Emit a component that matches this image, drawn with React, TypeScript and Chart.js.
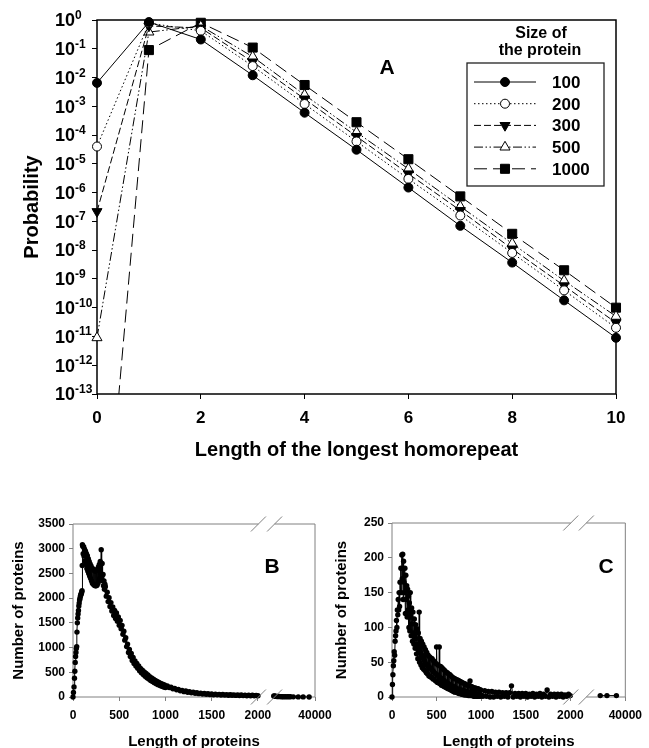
import React, { useEffect, useRef } from "react";
import { Chart, registerables } from "chart.js";

Chart.register(...registerables);

const FONT = '"Liberation Sans", Arial, Helvetica, sans-serif';
Chart.defaults.font.family = FONT;

// ---------------- Panel A data ----------------
const repeatLengths = [0, 1, 2, 3, 4, 5, 6, 7, 8, 9, 10];
const proteinSizes = ["100", "200", "300", "500", "1000"];
const prob100 = [6.5e-3, 0.85, 0.21, 0.012, 6e-4, 3.1e-5, 1.5e-6, 7e-8, 3.7e-9, 1.8e-10, 9e-12];
const prob200 = [4e-5, 0.78, 0.42, 0.025, 1.2e-3, 6e-5, 3e-6, 1.6e-7, 8e-9, 4e-10, 2e-11];
const prob300 = [2.2e-7, 0.62, 0.53, 0.035, 1.8e-3, 9e-5, 4.5e-6, 2.4e-7, 1.1e-8, 5.8e-10, 3e-11];
const prob500 = [9e-12, 0.38, 0.62, 0.053, 2.5e-3, 1.25e-4, 6.7e-6, 3.3e-7, 1.7e-8, 8.7e-10, 5e-11];
const prob1000 = [2e-22, 0.09, 0.8, 0.11, 5.5e-3, 2.8e-4, 1.45e-5, 7.4e-7, 3.7e-8, 2e-9, 1e-10];
const probSeries = [prob100, prob200, prob300, prob500, prob1000];
const probTickExponents = [0, -1, -2, -3, -4, -5, -6, -7, -8, -9, -10, -11, -12, -13];
const repeatTicks = [0, 2, 4, 6, 8, 10];

// ---------------- Panel B data ----------------
const lengthsB_rise = [0, 5, 11, 16, 20, 24, 28, 32, 36, 40, 43, 47, 51, 55, 59, 63, 67, 71, 75, 79, 83, 87, 91, 95, 98, 100, 102];
const countsB_rise = [0, 90, 204, 380, 520, 700, 820, 900, 980, 1020, 1313, 1500, 1600, 1680, 1750, 1840, 1900, 1960, 1990, 2030, 2060, 2080, 2100, 2130, 2150, 2660, 3080];
const countsB_peak = [3050, 2900, 3040, 2850, 2990, 2750, 2950, 2680, 2900, 2600, 2860, 2550, 2800, 2500, 2740, 2450, 2690, 2400, 2650, 2350, 2610, 2300, 2590, 2280, 2570, 2260, 2550, 2250, 2550, 2250, 2560, 2260, 2590, 2300, 2630, 2350, 2680, 2400, 2740, 2500, 2980, 2450, 2700, 2350, 2480, 2250, 2350, 2180, 2280]; // lengths 105..345 by 5
const countsB_decay = [2230, 2040, 2120, 1930, 2010, 1830, 1910, 1740, 1820, 1650, 1750, 1590, 1700, 1530, 1620, 1450, 1550, 1380, 1450, 1270, 1330, 1150, 1200, 1020, 1070, 900, 960, 820, 880, 740, 800, 680, 730, 625, 680, 580, 630, 530, 580, 490, 540, 455, 505, 420, 475, 390, 445, 362, 410, 335, 385, 312, 360, 290, 335, 268, 315, 250, 295, 232, 275, 215, 258, 200, 245, 190]; // lengths 350..1000 by 10
const countsB_tail = [225, 190, 200, 165, 175, 145, 155, 125, 135, 108, 120, 95, 105, 84, 95, 76, 86, 68, 78, 62, 72, 56, 66, 50, 62, 47, 57, 44, 54, 41, 51, 38, 48, 36, 46, 34, 44, 32, 42, 30, 40, 28, 38, 26, 36, 25, 34, 24, 32, 26]; // lengths 1020..2000 by 20
const lengthsB_long = [2100, 2500, 3000, 3500, 4000, 5000, 6000, 7000, 8000, 9000, 10000, 11500, 13000, 14500, 16000, 17500, 20100, 24600, 29100, 34600];
const countsB_long = [22, 18, 16, 14, 13, 11, 10, 9, 8, 7, 6, 6, 5, 5, 4, 4, 3, 2, 2, 1];
const countTicksB = [0, 500, 1000, 1500, 2000, 2500, 3000, 3500];

// ---------------- Panel C data ----------------
const countsC_rise = [0, 18, 32, 45, 52, 65, 60, 80, 88, 95, 110, 100, 125, 118, 140, 125, 150, 130, 165, 150]; // lengths 0..95 by 5
const countsC_body = [
  185, 150, 204, 170, 205, 140, 195, 165, 150, 185, 120, 175, 140, 160, 115, 155, 125, 145, 100, 135,
  95, 150, 115, 88, 128, 105, 80, 122, 92, 76, 112, 90, 70, 104, 84, 62, 98, 76, 55, 92,
  70, 122, 50, 84, 64, 46, 80, 60, 42, 76, 56, 40, 72, 52, 38, 68, 48, 35, 64, 46,
  33, 60, 44, 30, 58, 42, 29, 56, 40, 28, 55, 38, 26, 52, 36, 25, 50, 34, 23, 48,
  72, 32, 21, 46, 30, 20, 72, 28, 19, 44, 27, 17, 42, 25, 16, 40, 24, 15, 38, 22,
  14, 36, 21, 13, 35, 20, 12, 33, 18, 11, 32, 17, 10, 30, 16, 9, 28, 15, 8, 27,
  14, 7, 26, 13, 7, 25, 12, 6, 24, 11, 5, 23, 10, 5, 22, 10, 4, 21, 9, 4,
  20, 9, 3, 19, 8, 3, 18, 8, 3, 17, 7, 2, 16, 7, 2, 23, 6, 2, 15, 6,
  2, 14, 6, 1, 13, 5, 1, 13, 5, 1, 12, 4, 1, 12, 4, 1, 11, 4, 1, 10,
  3,
]; // lengths 100..1000 by 5
const countsC_tail = [1, 9, 1, 8, 0, 8, 0, 7, 1, 7, 0, 6, 1, 6, 0, 6, 16, 0, 5, 1, 5, 0, 5, 1, 5, 0, 4, 1, 5, 0, 4, 1, 5, 0, 4, 1, 10, 0, 4, 1, 4, 0, 4, 1, 4, 0, 3, 1, 4, 2]; // lengths 1020..2000 by 20
const lengthsC_long = [16100, 22500, 31500];
const countsC_long = [2, 2, 2];
const countTicksC = [0, 50, 100, 150, 200, 250];

const lengthTicks = [0, 500, 1000, 1500, 2000, 40000];

// ---------------- helpers ----------------
function lengthGrid(start: number, stop: number, step: number): number[] {
  const out: number[] = [];
  for (let v = start; v <= stop; v += step) out.push(v);
  return out;
}

// broken x axis: 0..2000 linear, then a compressed segment up to 40000
const BREAK_AT = 2000;
const SEG2_START = 2170;
const AXIS_END = 2617;
const LAST_LENGTH = 40000;
const SLASHES = [2005, 2180];
function toAxis(len: number): number {
  if (len <= BREAK_AT) return len;
  return SEG2_START + ((len - BREAK_AT) * (AXIS_END - SEG2_START)) / (LAST_LENGTH - BREAK_AT);
}

const seriesStyles = [
  { dash: [] as number[], point: "circle", radius: 4.5, filled: true, rotation: 0 },
  { dash: [1.5, 2.5], point: "circle", radius: 4.5, filled: false, rotation: 0 },
  { dash: [7, 3], point: "triangle", radius: 5.8, filled: true, rotation: 180 },
  { dash: [9, 2.5, 1.5, 2.5, 1.5, 2.5], point: "triangle", radius: 5.8, filled: false, rotation: 0 },
  { dash: [13, 6], point: "rect", radius: 6.4, filled: true, rotation: 0 },
];

function drawMarker(ctx: CanvasRenderingContext2D, st: any, x: number, y: number) {
  ctx.save();
  ctx.setLineDash([]);
  ctx.lineWidth = 1;
  ctx.strokeStyle = "#000";
  ctx.fillStyle = st.filled ? "#000" : "#fff";
  ctx.beginPath();
  if (st.point === "circle") {
    ctx.arc(x, y, st.radius, 0, Math.PI * 2);
  } else if (st.point === "rect") {
    const s = Math.SQRT1_2 * st.radius;
    ctx.rect(x - s, y - s, 2 * s, 2 * s);
  } else {
    let rad = (st.rotation * Math.PI) / 180;
    ctx.moveTo(x + Math.sin(rad) * st.radius, y - Math.cos(rad) * st.radius);
    rad += (2 * Math.PI) / 3;
    ctx.lineTo(x + Math.sin(rad) * st.radius, y - Math.cos(rad) * st.radius);
    rad += (2 * Math.PI) / 3;
    ctx.lineTo(x + Math.sin(rad) * st.radius, y - Math.cos(rad) * st.radius);
    ctx.closePath();
  }
  ctx.fill();
  ctx.stroke();
  ctx.restore();
}

function buildPanelA(canvas: HTMLCanvasElement) {
  const datasets = probSeries.map((values, i) => {
    const st = seriesStyles[i];
    return {
      label: proteinSizes[i],
      data: repeatLengths.map((x, j) => ({ x, y: values[j] })),
      borderColor: "#000",
      borderWidth: 1,
      borderDash: st.dash,
      pointStyle: st.point,
      pointRadius: st.radius,
      pointRotation: st.rotation,
      pointBackgroundColor: st.filled ? "#000" : "#fff",
      pointBorderColor: "#000",
      pointBorderWidth: 1,
      tension: 0,
      fill: false,
      clip: { left: 10, right: 10, top: 10, bottom: 0 },
    };
  });

  const plugin = {
    id: "panelA",
    beforeDatasetsDraw(chart: any) {
      const { ctx, chartArea: a } = chart;
      ctx.save();
      ctx.strokeStyle = "#000";
      ctx.lineWidth = 1.5;
      ctx.strokeRect(a.left, a.top, a.right - a.left, a.bottom - a.top);
      ctx.restore();
    },
    afterDraw(chart: any) {
      const { ctx, chartArea: a } = chart;
      const ys = chart.scales.y;
      ctx.save();
      ctx.fillStyle = "#000";
      probTickExponents.forEach((e) => {
        const py = ys.getPixelForValue(Math.pow(10, e));
        ctx.font = `bold 18px ${FONT}`;
        ctx.textAlign = "left";
        ctx.textBaseline = "alphabetic";
        ctx.fillText("10", 55, py + 6.3);
        const w = ctx.measureText("10").width;
        ctx.font = `bold 12px ${FONT}`;
        ctx.fillText(String(e), 55 + w, py - 1);
      });
      ctx.font = `bold 20px ${FONT}`;
      ctx.textAlign = "center";
      ctx.fillText("Length of the longest homorepeat", (a.left + a.right) / 2, 456);
      ctx.save();
      ctx.translate(38, (a.top + a.bottom) / 2);
      ctx.rotate(-Math.PI / 2);
      ctx.fillText("Probability", 0, 0);
      ctx.restore();
      ctx.font = `bold 21px ${FONT}`;
      ctx.fillText("A", 387, 74);
      ctx.font = `bold 16px ${FONT}`;
      ctx.fillText("Size of", 541, 38);
      ctx.fillText("the protein", 540, 55);
      ctx.strokeStyle = "#222";
      ctx.lineWidth = 1.3;
      ctx.strokeRect(467, 63, 137, 123);
      chart.data.datasets.forEach((ds: any, i: number) => {
        const st = seriesStyles[i];
        const ry = 82 + i * 21.7;
        ctx.save();
        ctx.strokeStyle = "#000";
        ctx.lineWidth = 1;
        ctx.setLineDash(st.dash);
        ctx.beginPath();
        ctx.moveTo(474, ry);
        ctx.lineTo(536, ry);
        ctx.stroke();
        ctx.restore();
        drawMarker(ctx, st, 505, ry);
        ctx.font = `bold 17px ${FONT}`;
        ctx.textAlign = "left";
        ctx.fillStyle = "#000";
        ctx.fillText(ds.label, 552, ry + 6);
      });
      ctx.restore();
    },
  };

  return new Chart(canvas, {
    type: "line",
    data: { datasets } as any,
    options: {
      responsive: false,
      animation: false,
      events: [],
      layout: { autoPadding: false, padding: { left: 0, top: 20, right: 33, bottom: 0 } } as any,
      plugins: { legend: { display: false }, tooltip: { enabled: false } },
      scales: {
        x: {
          type: "linear",
          min: 0,
          max: 10,
          afterBuildTicks: (s: any) => {
            s.ticks = repeatTicks.map((v) => ({ value: v }));
          },
          afterFit: (s: any) => {
            s.height = 76;
          },
          ticks: {
            font: { family: FONT, size: 17, weight: "bold" },
            color: "#000",
            padding: 9,
            autoSkip: false,
            maxRotation: 0,
            callback: (v: any) => String(v),
          },
          grid: { drawOnChartArea: false, drawTicks: true, tickLength: 5, color: "#000", lineWidth: 1 },
          border: { display: false },
        },
        y: {
          type: "logarithmic",
          min: 1e-13,
          max: 1,
          afterBuildTicks: (s: any) => {
            s.ticks = probTickExponents.map((e) => ({ value: Math.pow(10, e) }));
          },
          afterFit: (s: any) => {
            s.width = 97;
          },
          ticks: { display: false },
          grid: { drawOnChartArea: false, drawTicks: true, tickLength: 5, color: "#000", lineWidth: 1 },
          border: { display: false },
        },
      } as any,
    },
    plugins: [plugin],
  } as any);
}

type LengthPanel = {
  mainLengths: number[];
  mainCounts: number[];
  longLengths: number[];
  longCounts: number[];
  countTicks: number[];
  letter: string;
  pad: { left: number; top: number; right: number; bottom: number };
  yAxisWidth: number;
  xAxisHeight: number;
  yTitleX: number;
  letterX: number;
};

function buildLengthPanel(canvas: HTMLCanvasElement, p: LengthPanel) {
  const GRAY = "#808080";
  const pointOpts = {
    borderColor: "#000",
    borderWidth: 1,
    pointRadius: 2.7,
    pointStyle: "circle",
    pointBackgroundColor: "#000",
    pointBorderColor: "#000",
    pointBorderWidth: 0,
    tension: 0,
    fill: false,
    clip: 6,
  };
  const datasets = [
    { ...pointOpts, data: p.mainLengths.map((len, i) => ({ x: toAxis(len), y: p.mainCounts[i] })) },
    { ...pointOpts, data: p.longLengths.map((len, i) => ({ x: toAxis(len), y: p.longCounts[i] })) },
  ];

  const plugin = {
    id: "lengthPanel",
    beforeDatasetsDraw(chart: any) {
      const { ctx, chartArea: a } = chart;
      const xs = chart.scales.x;
      const s1 = xs.getPixelForValue(SLASHES[0]);
      const s2 = xs.getPixelForValue(SLASHES[1]);
      ctx.save();
      ctx.strokeStyle = GRAY;
      ctx.lineWidth = 1;
      ctx.beginPath();
      ctx.moveTo(a.left, a.top);
      ctx.lineTo(a.left, a.bottom);
      ctx.moveTo(a.right, a.top);
      ctx.lineTo(a.right, a.bottom);
      [a.top, a.bottom].forEach((y: number) => {
        ctx.moveTo(a.left, y);
        ctx.lineTo(s1, y);
        ctx.moveTo(s2, y);
        ctx.lineTo(a.right, y);
      });
      ctx.stroke();
      ctx.restore();
    },
    afterDatasetsDraw(chart: any) {
      const { ctx, chartArea: a } = chart;
      const xs = chart.scales.x;
      ctx.save();
      ctx.strokeStyle = GRAY;
      ctx.lineWidth = 1;
      ctx.beginPath();
      SLASHES.forEach((v) => {
        const px = xs.getPixelForValue(v);
        [a.top, a.bottom].forEach((y: number) => {
          ctx.moveTo(px - 7.5, y + 7.5);
          ctx.lineTo(px + 7.5, y - 7.5);
        });
      });
      ctx.stroke();
      ctx.restore();
    },
    afterDraw(chart: any) {
      const { ctx, chartArea: a } = chart;
      ctx.save();
      ctx.fillStyle = "#000";
      ctx.textAlign = "center";
      ctx.textBaseline = "alphabetic";
      ctx.font = `bold 15px ${FONT}`;
      ctx.fillText("Length of proteins", (a.left + a.right) / 2, 246);
      ctx.save();
      ctx.translate(p.yTitleX, (a.top + a.bottom) / 2);
      ctx.rotate(-Math.PI / 2);
      ctx.fillText("Number of proteins", 0, 0);
      ctx.restore();
      ctx.font = `bold 21px ${FONT}`;
      ctx.fillText(p.letter, p.letterX, 73);
      ctx.restore();
    },
  };

  return new Chart(canvas, {
    type: "line",
    data: { datasets } as any,
    options: {
      responsive: false,
      animation: false,
      events: [],
      layout: { autoPadding: false, padding: p.pad } as any,
      plugins: { legend: { display: false }, tooltip: { enabled: false } },
      scales: {
        x: {
          type: "linear",
          min: 0,
          max: AXIS_END,
          afterBuildTicks: (s: any) => {
            s.ticks = lengthTicks.map((v) => ({ value: toAxis(v) }));
          },
          afterFit: (s: any) => {
            s.height = p.xAxisHeight;
          },
          ticks: {
            font: { family: FONT, size: 12, weight: "bold" },
            color: "#000",
            padding: 7,
            autoSkip: false,
            maxRotation: 0,
            callback: (v: any) => (v > BREAK_AT + 1 ? String(LAST_LENGTH) : String(v)),
          },
          grid: { drawOnChartArea: false, drawTicks: true, tickLength: 4, color: GRAY, lineWidth: 1 },
          border: { display: false },
        },
        y: {
          type: "linear",
          min: 0,
          max: p.countTicks[p.countTicks.length - 1],
          afterBuildTicks: (s: any) => {
            s.ticks = p.countTicks.map((v) => ({ value: v }));
          },
          afterFit: (s: any) => {
            s.width = p.yAxisWidth;
          },
          ticks: {
            font: { family: FONT, size: 12, weight: "bold" },
            color: "#000",
            padding: 4,
            callback: (v: any) => String(v),
          },
          grid: { drawOnChartArea: false, drawTicks: true, tickLength: 4, color: GRAY, lineWidth: 1 },
          border: { display: false },
        },
      } as any,
    },
    plugins: [plugin],
  } as any);
}

const panelB: LengthPanel = {
  mainLengths: [
    ...lengthsB_rise,
    ...lengthGrid(105, 345, 5),
    ...lengthGrid(350, 1000, 10),
    ...lengthGrid(1020, 2000, 20),
  ],
  mainCounts: [...countsB_rise, ...countsB_peak, ...countsB_decay, ...countsB_tail],
  longLengths: lengthsB_long,
  longCounts: countsB_long,
  countTicks: countTicksB,
  letter: "B",
  pad: { left: 0, top: 24, right: 30, bottom: 0 },
  yAxisWidth: 73,
  xAxisHeight: 51,
  yTitleX: 23,
  letterX: 272,
};

const panelC: LengthPanel = {
  mainLengths: [...lengthGrid(0, 95, 5), ...lengthGrid(100, 1000, 5), ...lengthGrid(1020, 2000, 20)],
  mainCounts: [...countsC_rise, ...countsC_body, ...countsC_tail],
  longLengths: lengthsC_long,
  longCounts: countsC_long,
  countTicks: countTicksC,
  letter: "C",
  pad: { left: 0, top: 23, right: 16, bottom: 0 },
  yAxisWidth: 67,
  xAxisHeight: 51,
  yTitleX: 21,
  letterX: 281,
};

export default function App() {
  const refA = useRef<HTMLCanvasElement>(null);
  const refB = useRef<HTMLCanvasElement>(null);
  const refC = useRef<HTMLCanvasElement>(null);

  useEffect(() => {
    const charts: Chart[] = [];
    if (refA.current) charts.push(buildPanelA(refA.current));
    if (refB.current) charts.push(buildLengthPanel(refB.current, panelB));
    if (refC.current) charts.push(buildLengthPanel(refC.current, panelC));
    return () => charts.forEach((c) => c.destroy());
  }, []);

  return (
    <div style={{ position: "absolute", left: 0, top: 0, width: 649, height: 748, overflow: "hidden", background: "#fff" }}>
      <canvas ref={refA} width={649} height={470} style={{ position: "absolute", left: 0, top: 0, width: 649, height: 470 }} />
      <canvas ref={refB} width={345} height={248} style={{ position: "absolute", left: 0, top: 500, width: 345, height: 248 }} />
      <canvas ref={refC} width={324} height={248} style={{ position: "absolute", left: 325, top: 500, width: 324, height: 248 }} />
    </div>
  );
}
